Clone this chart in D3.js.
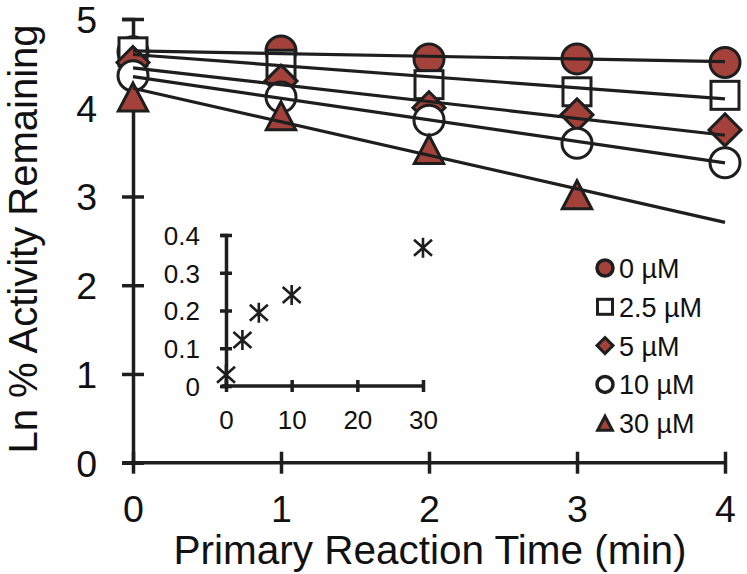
<!DOCTYPE html>
<html><head><meta charset="utf-8">
<script src="https://cdn.jsdelivr.net/npm/d3@7"></script>
<style>
html,body{margin:0;padding:0;background:#fff;}
svg text{font-family:"Liberation Sans",Arial,Helvetica,sans-serif;fill:#111;}
</style></head>
<body><svg id="c" width="747" height="574"></svg>
<script>
// ---- data ----
const times = [0, 1, 2, 3, 4];
const seriesLabels = ["0 \u00b5M", "2.5 \u00b5M", "5 \u00b5M", "10 \u00b5M", "30 \u00b5M"];
const seriesShapes = ["circle", "square", "diamond", "circle", "triangle"];
const seriesFilled = [true, false, true, false, true];
const s0  = [4.63, 4.64, 4.55, 4.55, 4.51];
const s25 = [4.63, 4.49, 4.26, 4.18, 4.14];
const s5  = [4.51, 4.30, 4.00, 3.92, 3.75];
const s10 = [4.36, 4.12, 3.86, 3.60, 3.38];
const s30 = [4.12, 3.91, 3.53, 3.02];
const fitIntercepts = [4.64, 4.60, 4.45, 4.35, 4.22];
const fitSlopes = [-0.03, -0.125, -0.19, -0.243, -0.378];
const xTicks = [0, 1, 2, 3, 4];
const yTicks = [0, 1, 2, 3, 4, 5];
const insetConc = [0, 2.5, 5, 10, 30];
const insetRate = [0.03, 0.122, 0.194, 0.241, 0.366];
const insetXTicks = [0, 10, 20, 30];
const insetYTicks = [0, 0.1, 0.2, 0.3, 0.4];

const allSeries = [s0, s25, s5, s10, s30];
const RED = "#a3423b", INK = "#1e1e1e";

const svg = d3.select("#c");
const x = d3.scaleLinear().domain([0, 4]).range([133, 725]);
const y = d3.scaleLinear().domain([0, 5]).range([462.7, 19]);

// main axes
const gy = svg.append("g").attr("transform", `translate(${x(0)},0)`)
  .call(d3.axisLeft(y).tickValues(yTicks).tickSizeOuter(0).tickSize(11).tickFormat(d3.format("d")));
const gx = svg.append("g").attr("transform", `translate(0,${y(0)})`)
  .call(d3.axisBottom(x).tickValues(xTicks).tickSizeOuter(0).tickSize(11).tickFormat(d3.format("d")));
[gy, gx].forEach(g => {
  g.select(".domain").attr("stroke", INK).attr("stroke-width", 3.5);
  g.selectAll(".tick line").attr("stroke", INK).attr("stroke-width", 3.5);
  g.selectAll(".tick text").attr("font-size", 37.5).attr("fill", "#111");
});
gy.selectAll(".tick line").attr("x1", -11).attr("x2", 11);
gy.selectAll(".tick text").attr("x", -36).attr("dy", "0.36em");
gx.selectAll(".tick line").attr("y1", -11).attr("y2", 11);
gx.selectAll(".tick text").attr("dy", null).attr("y", 59);
gx.select(".domain").attr("d", `M${x(0)-11},0H${x(4)}`);

// titles
svg.append("text").attr("x", 430).attr("y", 564).attr("text-anchor", "middle")
  .attr("font-size", 40.5).text("Primary Reaction Time (min)");
svg.append("text").attr("transform", "translate(37,239) rotate(-90)")
  .attr("text-anchor", "middle").attr("font-size", 40).text("Ln % Activity Remaining");

function drawMarker(g, shape, cx, cy, s, filled, sw) {
  const h = s / 2;
  const fill = filled ? RED : "#fff";
  let el;
  if (shape === "circle") el = g.append("circle").attr("cx", cx).attr("cy", cy).attr("r", h);
  else if (shape === "square") el = g.append("rect").attr("x", cx - h).attr("y", cy - h).attr("width", s).attr("height", s);
  else if (shape === "diamond") el = g.append("path").attr("d", `M${cx},${cy-h}L${cx+h},${cy}L${cx},${cy+h}L${cx-h},${cy}Z`);
  else el = g.append("path").attr("d", `M${cx},${cy-h}L${cx+h*1.05},${cy+h}L${cx-h*1.05},${cy+h}Z`);
  el.attr("fill", fill).attr("stroke", INK).attr("stroke-width", sw).attr("stroke-linejoin", "miter");
}

const gm = svg.append("g");
const mSizes = {circle: 30, square: 28, diamond: 32, triangle: 28};
allSeries.forEach((vals, i) => {
  vals.forEach((v, j) => {
    drawMarker(gm, seriesShapes[i], x(times[j]), y(v), mSizes[seriesShapes[i]], seriesFilled[i], 3);
  });
});

// fit lines on top
const line = d3.line().x(d => x(d[0])).y(d => y(d[1]));
fitIntercepts.forEach((b, i) => {
  const m = fitSlopes[i];
  svg.append("path").attr("d", line([[0, b], [4, b + 4 * m]]))
    .attr("fill", "none").attr("stroke", INK).attr("stroke-width", 3.2);
});

// legend
const lg = svg.append("g");
const legSizes = {circle: 16, square: 15, diamond: 16, triangle: 14};
seriesLabels.forEach((lab, i) => {
  const cy = 268 + i * 38.8;
  drawMarker(lg, seriesShapes[i], 605, cy, legSizes[seriesShapes[i]], seriesFilled[i], seriesShapes[i] === "circle" ? 3.5 : 3);
  lg.append("text").attr("x", 619).attr("y", cy + 10).attr("font-size", 27).text(lab);
});

// inset
const ix = d3.scaleLinear().domain([0, 30]).range([226, 423]);
const iy = d3.scaleLinear().domain([0, 0.4]).range([386, 235]);
const igx = svg.append("g").attr("transform", `translate(0,${iy(0)})`)
  .call(d3.axisBottom(ix).tickValues(insetXTicks).tickSizeOuter(0).tickSize(5).tickFormat(d3.format("d")));
const igy = svg.append("g").attr("transform", `translate(${ix(0)},0)`)
  .call(d3.axisLeft(iy).tickValues(insetYTicks).tickSizeOuter(0).tickSize(5).tickFormat(d => d === 0 ? "0" : d3.format(".1f")(d)));
[igx, igy].forEach(g => {
  g.select(".domain").attr("stroke", INK).attr("stroke-width", 3.5);
  g.selectAll(".tick line").attr("stroke", INK).attr("stroke-width", 3.5);
  g.selectAll(".tick text").attr("font-size", 26).attr("fill", "#111");
});
igx.selectAll(".tick line").attr("y1", -6).attr("y2", 6);
igx.selectAll(".tick text").attr("y", 43).attr("dy", null);
igx.select(".domain").attr("d", `M${ix(0)-4},0H${ix(30)}`);
igy.selectAll(".tick line").attr("x1", -6).attr("x2", 6);
igy.selectAll(".tick text").attr("x", -26).attr("dy", "0.36em");

const ast = svg.append("g");
insetConc.forEach((c, i) => {
  const cx = ix(c), cy = iy(insetRate[i]), r = 10;
  const p = `M${cx-r*0.9},${cy-r*0.8}L${cx+r*0.9},${cy+r*0.8}M${cx-r*0.9},${cy+r*0.8}L${cx+r*0.9},${cy-r*0.8}M${cx},${cy-r}L${cx},${cy+r}`;
  ast.append("path").attr("d", p).attr("stroke", INK).attr("stroke-width", 2.6).attr("fill", "none");
});
</script></body></html>
